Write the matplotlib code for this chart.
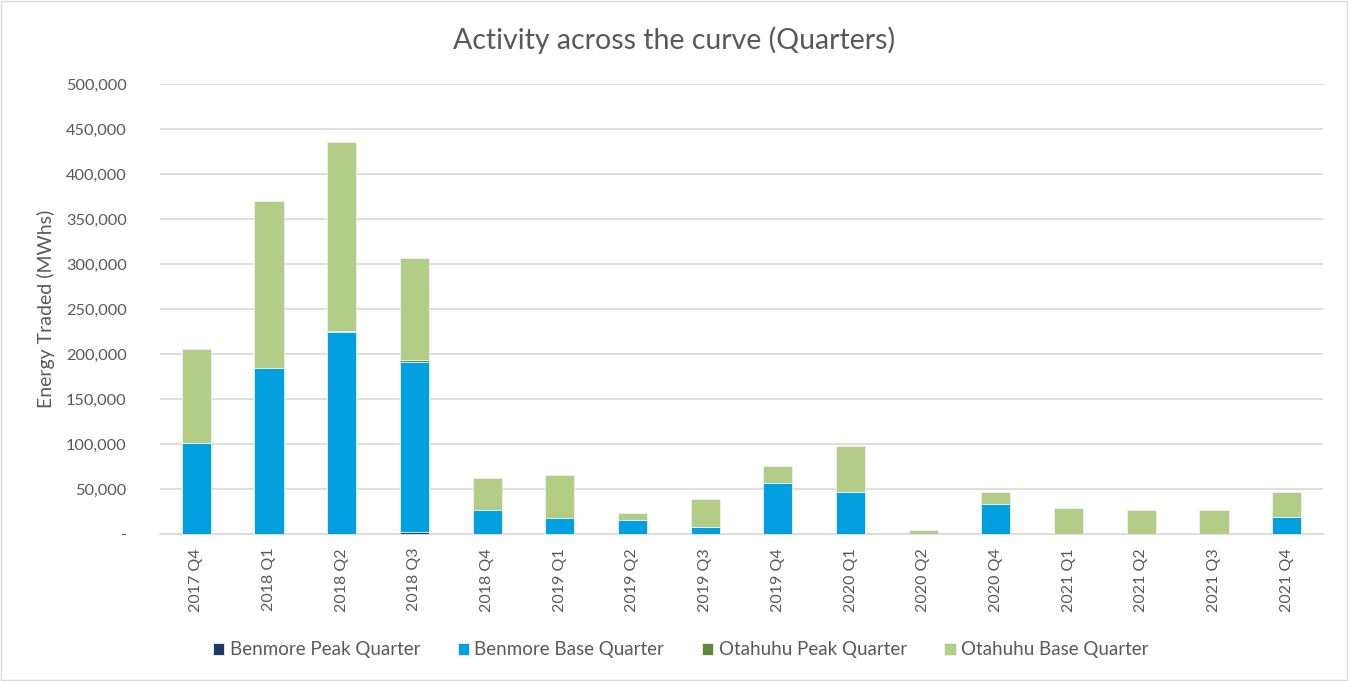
import numpy as np
import matplotlib
matplotlib.use("Agg")
import matplotlib.pyplot as plt
from matplotlib.ticker import FuncFormatter
from matplotlib.patches import Rectangle

plt.rcParams["font.family"] = ["Lato", "DejaVu Sans"]

quarters = ["2017 Q4", "2018 Q1", "2018 Q2", "2018 Q3", "2018 Q4", "2019 Q1",
            "2019 Q2", "2019 Q3", "2019 Q4", "2020 Q1", "2020 Q2", "2020 Q4",
            "2021 Q1", "2021 Q2", "2021 Q3", "2021 Q4"]

benmore_peak = [0, 0, 0, 2500, 0, 0, 0, 0, 0, 0, 0, 0, 0, 0, 0, 0]
benmore_base = [101000, 184500, 224000, 189000, 26800, 18300, 15200, 7800,
                56500, 46800, 0, 32800, 0, 0, 0, 19300]
otahuhu_peak = [0, 0, 2000, 2000, 0, 0, 0, 0, 0, 0, 0, 0, 0, 0, 0, 0]
otahuhu_base = [104600, 186000, 209800, 113600, 35600, 47000, 8500, 31100,
                19600, 51100, 4800, 13800, 28700, 26800, 26900, 27100]

series = [
    ("Benmore Peak Quarter", benmore_peak, "#1f3864"),
    ("Benmore Base Quarter", benmore_base, "#009fdf"),
    ("Otahuhu Peak Quarter", otahuhu_peak, "#5e8a3a"),
    ("Otahuhu Base Quarter", otahuhu_base, "#b3cd87"),
]

text_col = "#595959"

fig = plt.figure(figsize=(13.48, 6.81), dpi=100)
ax = fig.add_axes([160 / 1348, 1 - 534 / 681, 1163 / 1348, 450 / 681])

x = np.arange(len(quarters))
bottom = np.zeros(len(quarters))
for name, vals, col in series:
    vals = np.array(vals, dtype=float)
    ax.bar(x, vals, 0.4, bottom=bottom, color=col, label=name,
           edgecolor="#eaf3fb", linewidth=0.6, zorder=3)
    bottom += vals

ax.set_xlim(-0.5, len(quarters) - 0.5)
ax.set_ylim(0, 500000)
ax.set_yticks(np.arange(0, 500001, 50000))
ax.yaxis.set_major_formatter(FuncFormatter(lambda v, p: "-" if v == 0 else f"{int(v):,}"))
ax.grid(axis="y", color="#d9d9d9", linewidth=1.2, zorder=0)
for s in ["top", "right", "left"]:
    ax.spines[s].set_visible(False)
ax.spines["bottom"].set_color("#d9d9d9")
ax.spines["bottom"].set_linewidth(1.2)

ax.set_xticks(x)
ax.set_xticklabels(quarters, rotation=90, fontsize=11.5, color=text_col)
ax.tick_params(axis="x", length=0, pad=10)
ax.tick_params(axis="y", length=0, labelsize=11.8, labelcolor=text_col, pad=24)

ax.set_ylabel("Energy Traded (MWhs)", fontsize=14, color=text_col, labelpad=8)

fig.text(0.5, 1 - 40 / 681, "Activity across the curve (Quarters)", ha="center",
         va="center", fontsize=20.5, color=text_col)

leg = fig.legend(loc="center", bbox_to_anchor=(0.505, 1 - 650 / 681), ncol=4,
                 frameon=False, fontsize=13.5, handlelength=0.6, handleheight=0.6,
                 columnspacing=2.0, handletextpad=0.3)
for t in leg.get_texts():
    t.set_color(text_col)

fig.patches.append(Rectangle((0.001, 0.001), 0.998, 0.998, transform=fig.transFigure,
                             fill=False, edgecolor="#d9d9d9", linewidth=1))

fig.savefig("out.png", dpi=100)
